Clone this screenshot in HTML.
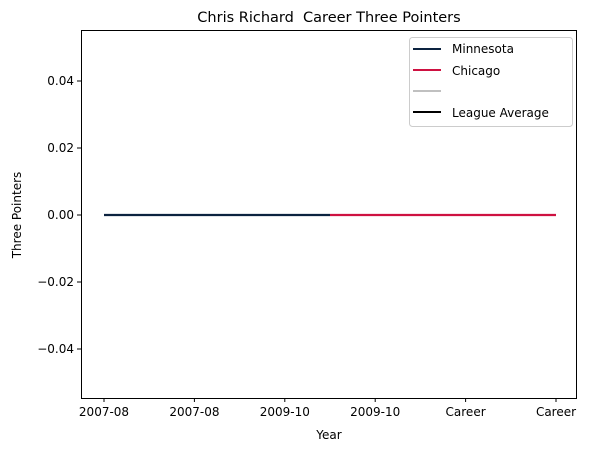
<!DOCTYPE html>
<html><head><meta charset="utf-8"><style>
body{margin:0;background:#fff;font-family:"Liberation Sans","DejaVu Sans",sans-serif}
svg text{font-family:"DejaVu Sans","Liberation Sans",sans-serif;fill:#000}
</style></head><body>
<svg id="chart" width="591" height="453">
<text x="329" y="22" font-size="14.5" text-anchor="middle">Chris Richard&#160; Career Three Pointers</text>
<g id="ticks"></g>
<g id="lines"></g>
<rect x="81.5" y="30.5" width="495" height="368" fill="none" stroke="#000" stroke-width="1"/>
<text x="329" y="439" font-size="12" text-anchor="middle">Year</text>
<text transform="translate(21,215) rotate(-90)" font-size="12" text-anchor="middle">Three Pointers</text>
<g>
<rect x="409.5" y="37.5" width="163" height="89" rx="3" fill="#fff" stroke="#ccc"/>
<line x1="413" y1="49" x2="441" y2="49" stroke="#0c2340" stroke-width="2"/>
<text x="452" y="53" font-size="12">Minnesota</text>
<line x1="413" y1="70" x2="441" y2="70" stroke="#ce1141" stroke-width="2"/>
<text x="452" y="75" font-size="12">Chicago</text>
<line x1="413" y1="91" x2="441" y2="91" stroke="#c0c0c0" stroke-width="2"/>
<line x1="413" y1="112" x2="441" y2="112" stroke="#000" stroke-width="2"/>
<text x="452" y="117" font-size="12">League Average</text>
</g>
</svg>
<script>
const categories=["2007-08","2007-08","2009-10","2009-10","Career","Career"];
const yTicks=[0.04,0.02,0.00,-0.02,-0.04];
const yTickLabels=["0.04","0.02","0.00","\u22120.02","\u22120.04"];
const minnesotaX=[0,2.5];
const minnesotaY=[0,0];
const chicagoX=[2.5,5];
const chicagoY=[0,0];
const NS="http://www.w3.org/2000/svg";
const xs=i=>104+i*90.4;
const ys=v=>215-v*3350;
const tg=document.getElementById('ticks'),lg=document.getElementById('lines');
function mk(tag,attrs,parent){const e=document.createElementNS(NS,tag);for(const k in attrs)e.setAttribute(k,attrs[k]);parent.appendChild(e);return e;}
categories.forEach((c,i)=>{
 const x=xs(i);
 const t=mk('line',{x1:x,y1:398,x2:x,y2:402,stroke:'#000'},tg);
 
 
 const l=mk('text',{x:x,y:416,'font-size':12,'text-anchor':'middle'},tg);l.textContent=c;
 
 
});
yTicks.forEach((v,i)=>{
 const y=ys(v);
 const t=mk('line',{x1:77,y1:y,x2:81,y2:y,stroke:'#000'},tg);
 
 
 const l=mk('text',{x:74,y:y+4,'font-size':12,'text-anchor':'end'},tg);l.textContent=yTickLabels[i];
 
 
});
function series(X,Y,color,name){
 const p=mk('polyline',{points:X.map((x,i)=>xs(x)+','+ys(Y[i])).join(' '),fill:'none',stroke:color,'stroke-width':2.2},lg);
 
 
}
series(minnesotaX,minnesotaY,'#0c2340','minnesota-line');
series(chicagoX,chicagoY,'#ce1141','chicago-line');
</script>
</body></html>
